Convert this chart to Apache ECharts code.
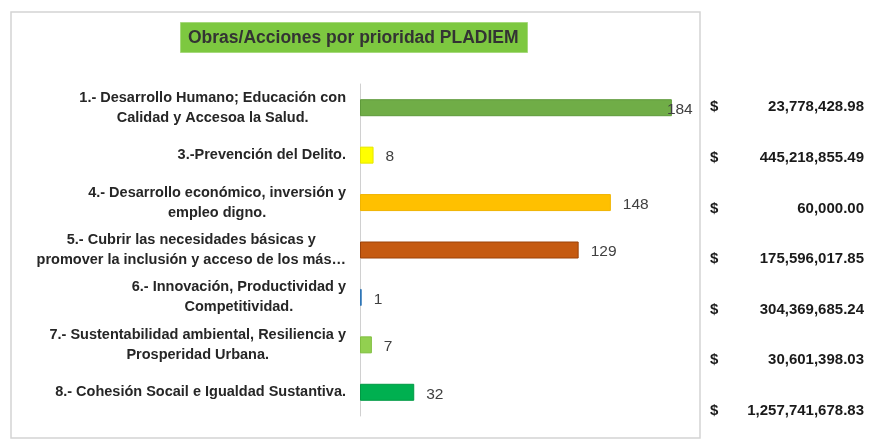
<!DOCTYPE html>
<html>
<head>
<meta charset="utf-8">
<script src="https://cdn.jsdelivr.net/npm/echarts@6/dist/echarts.min.js"></script>
<style>
  html, body { margin: 0; background: #fff; }
  #chart { width: 871px; height: 441px; }
</style>
</head>
<body>
<div id="chart"></div>
<script>
// ejes y datos (de arriba hacia abajo)
const categorias = [
  "1.- Desarrollo Humano; Educación con\nCalidad y Accesoa la Salud.",
  "3.-Prevención del Delito.",
  "4.- Desarrollo económico, inversión y\nempleo digno.",
  "5.- Cubrir las necesidades básicas y\npromover la inclusión y acceso de los más…",
  "6.- Innovación, Productividad y\nCompetitividad.",
  "7.- Sustentabilidad ambiental, Resiliencia y\nProsperidad Urbana.",
  "8.- Cohesión Socail e Igualdad Sustantiva."
];
const obras = [184, 8, 148, 129, 1, 7, 32];
const montos = [
  "23,778,428.98",
  "445,218,855.49",
  "60,000.00",
  "175,596,017.85",
  "304,369,685.24",
  "30,601,398.03",
  "1,257,741,678.83"
];
const colores = ["#70ad47", "#ffff00", "#ffc000", "#c55a11", "#2e75b6", "#92d050", "#00b050"];
const bordes = ["#5e9a3a", "#e6e600", "#f0b400", "#9c4209", "#2e75b6", "#80bf40", "#009a44"];

const FONT = "'Liberation Sans', Arial, sans-serif";

const option = {
  backgroundColor: "#fff",
  animation: false,
  title: {
    text: "Obras/Acciones por prioridad PLADIEM",
    left: 180,
    top: 22,
    backgroundColor: "#7dc840",
    borderColor: "#a6d97c",
    borderWidth: 1,
    padding: [7, 9, 6, 8],
    textStyle: {
      fontFamily: FONT,
      fontSize: 17.5,
      fontWeight: "bold",
      color: "#333"
    }
  },
  graphic: [
    {
      type: "rect",
      shape: { x: 11, y: 12, width: 689, height: 426 },
      style: { fill: "none", stroke: "#d4d4d4", lineWidth: 1.5 },
      silent: true
    }
  ],
  grid: [
    { left: 360, width: 339, top: 84, height: 332 },
    { left: 864, width: 1, top: 82, height: 354 }
  ],
  xAxis: [
    { type: "value", gridIndex: 0, min: 0, max: 200, show: false },
    { type: "value", gridIndex: 1, show: false }
  ],
  yAxis: [
    {
      type: "category",
      gridIndex: 0,
      inverse: true,
      data: categorias,
      axisLine: { show: true, lineStyle: { color: "#d0d0d0", width: 1 } },
      axisTick: { show: false },
      axisLabel: {
        margin: 14,
        align: "right",
        formatter: (v) => v.split("\n").map((l) => "{c|" + l + "}").join("\n"),
        rich: {
          c: {
            align: "center",
            fontFamily: FONT,
            fontSize: 14.5,
            fontWeight: "bold",
            color: "#262626",
            lineHeight: 20
          }
        }
      }
    },
    {
      type: "category",
      gridIndex: 1,
      inverse: true,
      data: montos,
      axisLine: { show: false },
      axisTick: { show: false },
      axisLabel: {
        margin: 0,
        align: "right",
        formatter: (v) => "{d|$}{v|" + v + "}",
        rich: {
          d: { width: 22, align: "left", fontFamily: FONT, fontSize: 15, fontWeight: "bold", color: "#1a1a1a" },
          v: { width: 132, align: "right", fontFamily: FONT, fontSize: 15, fontWeight: "bold", color: "#1a1a1a" }
        }
      }
    }
  ],
  series: [
    {
      type: "bar",
      xAxisIndex: 0,
      yAxisIndex: 0,
      barWidth: 17,
      label: {
        show: true,
        position: "right",
        distance: 12,
        offset: [0, 2],
        fontFamily: FONT,
        fontSize: 15.5,
        color: "#404040"
      },
      data: obras.map((v, i) => ({
        value: v,
        itemStyle: { color: colores[i], borderColor: bordes[i], borderWidth: 1 },
        // Excel mete la etiqueta cuando no cabe al final del área
        label: v >= 180 ? { distance: -5 } : undefined
      }))
    }
  ]
};

const chart = echarts.init(document.getElementById("chart"));
chart.setOption(option);
</script>
</body>
</html>
